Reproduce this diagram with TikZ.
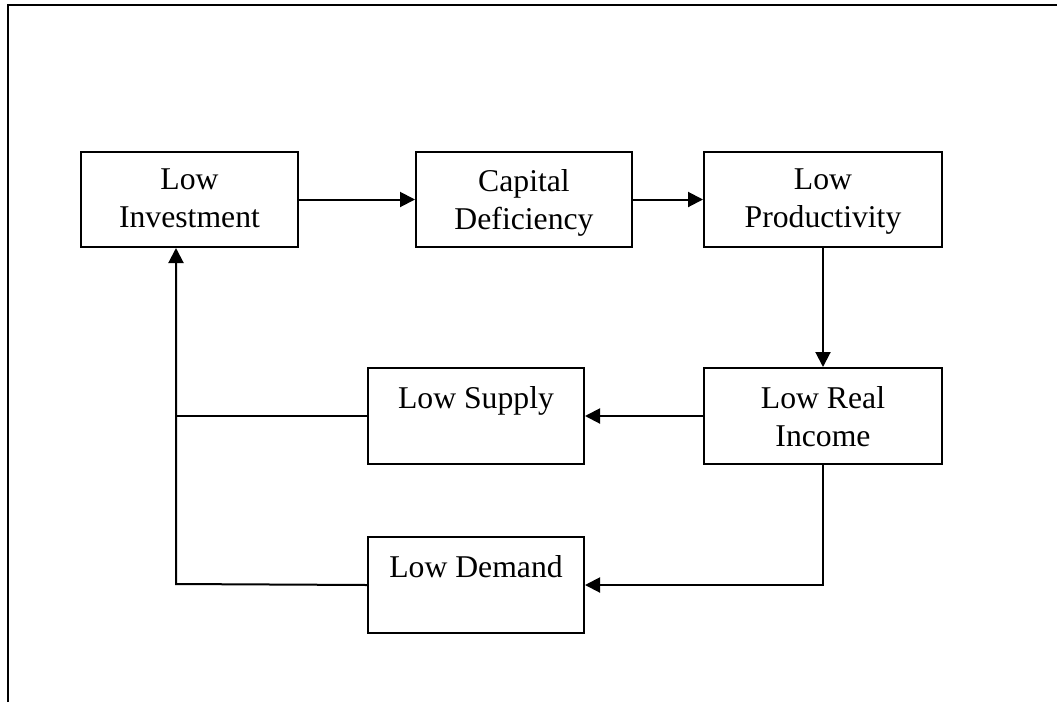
\documentclass[tikz,border=0pt]{standalone}
\usepackage{fontspec}
\setmainfont{Liberation Serif}
\usetikzlibrary{arrows.meta}
\begin{document}
\begin{tikzpicture}[x=1pt,y=-1pt,
  boxnode/.style={draw=black,line width=2pt,rectangle,inner sep=0pt,anchor=north west},
  lbl/.style={anchor=north,inner sep=0pt,align=center,font=\fontsize{31.7}{38}\selectfont},
  conn/.style={line width=2pt,-{Triangle[length=15pt,width=15pt]}},
  plain/.style={line width=2pt}]
\useasboundingbox (0,0) rectangle (1057,702);
\draw[line width=2.6pt] (8,702) -- (8,5) -- (1057,5);
% boxes
\node[boxnode,minimum width=217pt,minimum height=95pt] (b1) at (80,151) {};
\node[boxnode,minimum width=216pt,minimum height=95pt] (b2) at (415,151) {};
\node[boxnode,minimum width=238pt,minimum height=95pt] (b3) at (703,151) {};
\node[boxnode,minimum width=238pt,minimum height=96pt] (b4) at (703,367) {};
\node[boxnode,minimum width=216pt,minimum height=96pt] (b5) at (367,367) {};
\node[boxnode,minimum width=216pt,minimum height=96pt] (b6) at (367,536) {};
% labels
\node[lbl] (t1) at ([yshift=-18pt]b1.north) {Low\\Investment};
\node[lbl] (t2) at ([yshift=-18pt]b2.north) {Capital\\Deficiency};
\node[lbl] (t3) at ([yshift=-18pt]b3.north) {Low\\Productivity};
\node[lbl] (t4) at ([yshift=-19pt]b4.north) {Low Real\\Income};
\node[lbl] (t5) at ([yshift=-19pt]b5.north) {Low Supply};
\node[lbl] (t6) at ([yshift=-19pt]b6.north) {Low Demand};
% connectors
\coordinate (j) at (176,584);
\draw[conn] (b1.east) -- (b2.west);
\draw[conn] (b2.east) -- (b3.west);
\draw[conn] (b3.south) -- (b4.north);
\draw[conn] (b4.west) -- (b5.east);
\draw[conn] (b4.south) |- (b6.east);
\draw[conn] (b6.west) -- (j) -- (j |- b1.south);
\draw[plain] (b5.west) -- (b5.west -| j);
\end{tikzpicture}
\end{document}
